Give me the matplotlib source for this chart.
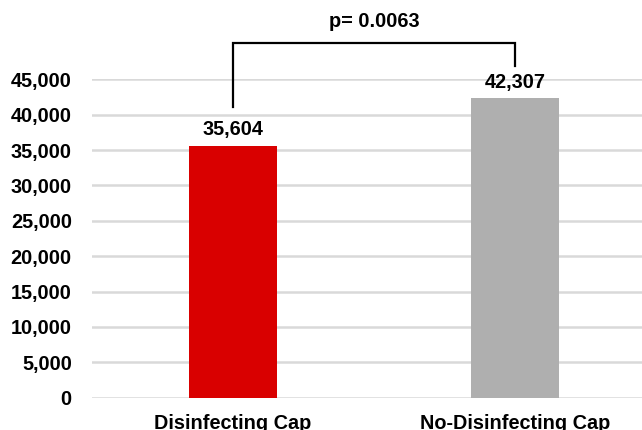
import matplotlib
matplotlib.use('Agg')
import matplotlib.pyplot as plt
from matplotlib.ticker import FuncFormatter

# chart values
categories = ['Disinfecting Cap', 'No-Disinfecting Cap']
values = [35604, 42307]
bar_colors = ['#D90000', '#AFAFAF']
p_text = 'p= 0.0063'

plt.rcParams['font.family'] = ['Liberation Sans', 'DejaVu Sans']
plt.rcParams['font.weight'] = 'bold'

fig = plt.figure(figsize=(6.42, 4.30), dpi=100)
ax = fig.add_axes([0.1433, 0.0751, 0.8567, 0.7405])

x = list(range(len(categories)))
ax.bar(x, values, width=0.312, color=bar_colors, zorder=2)

for xi, v in zip(x, values):
    ax.annotate(f'{v:,}', (xi, v), xytext=(0, 11.5), textcoords='offset points',
                ha='center', va='center', fontsize=14.3, fontweight='bold')

ax.set_xlim(-0.5, 1.451)
ax.set_ylim(0, 45000)
ax.set_yticks(range(0, 45001, 5000))
ax.yaxis.set_major_formatter(FuncFormatter(lambda v, pos: f'{int(v):,}'))
ax.set_xticks(x)
ax.set_xticklabels(categories)
ax.tick_params(axis='both', length=0, labelsize=14.3)
ax.tick_params(axis='y', pad=14.5)
ax.tick_params(axis='x', pad=11.5)
ax.grid(axis='y', color='#D9D9D9', linewidth=1.8, zorder=0)
ax.set_axisbelow(True)
for s in ax.spines.values():
    s.set_visible(False)

# significance bracket
ax.plot([0, 0, 1, 1], [41085, 50170, 50170, 46920], color='black',
        linewidth=1.6, clip_on=False, solid_joinstyle='miter')
ax.text(0.5, 53100, p_text, ha='center', va='center', fontsize=14.3,
        fontweight='bold', clip_on=False)

fig.savefig('out.png', dpi=100)
